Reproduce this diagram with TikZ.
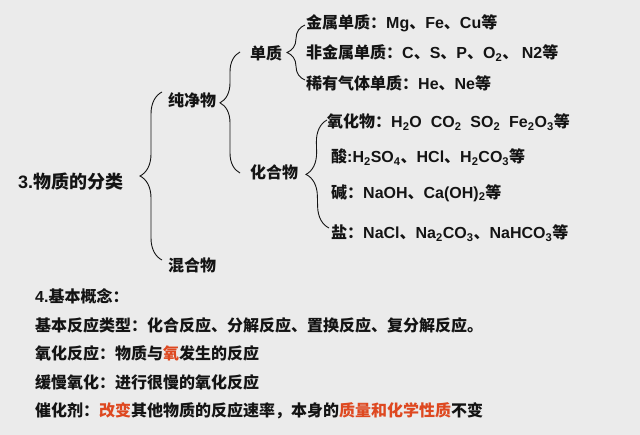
\documentclass[tikz,border=0pt]{standalone}
\usepackage{fontspec}
\setmainfont{Liberation Sans}
\newfontfamily\cjk{Noto Sans CJK SC}
\newfontfamily\latfont{Liberation Sans}
\newcommand\latn[1]{{\latfont\bfseries #1}}
\newcommand\sub[1]{\textsubscript{#1}}
\usetikzlibrary{decorations.pathreplacing,calc}
\definecolor{bg}{RGB}{235,235,235}
\definecolor{hl}{RGB}{222,72,32}
\definecolor{ink}{RGB}{20,20,20}
\tikzset{
  lbl/.style={anchor=west,inner sep=0pt,text=ink,font=\cjk\bfseries\fontsize{16}{18}\selectfont},
  big/.style={lbl,font=\cjk\bfseries\fontsize{18}{20}\selectfont},
  brc/.style={draw=ink,line width=0.9pt,decorate,decoration={brace,amplitude=#1}}
}
\begin{document}
\begin{tikzpicture}[x=1pt,y=-1pt]
\fill[bg] (0,0) rectangle (640,435);
\useasboundingbox (0,0) rectangle (640,435);
% classification
\node[big] (root) at (18,182) {\latn{3.}物质的分类};
\node[lbl] (chun) at (168,100) {纯净物};
\node[lbl] (hun) at (168,265) {混合物};
\node[lbl] (dan) at (250,53) {单质};
\node[lbl] (hua) at (250,172) {化合物};
\node[lbl] (j1) at (306,23) {金属单质：\latn{Mg}、\latn{Fe}、\latn{Cu}等};
\node[lbl] (j2) at (306,53) {非金属单质：\latn{C}、\latn{S}、\latn{P}、\latn{O\sub{2}}、 \latn{N2}等};
\node[lbl] (j3) at (306,83) {稀有气体单质：\latn{He}、\latn{Ne}等};
\node[lbl] (h1) at (327,122) {氧化物：\latn{H\sub{2}O\ \ CO\sub{2}\ \ SO\sub{2}\ \ Fe\sub{2}O\sub{3}}等};
\node[lbl] (h2) at (331,157) {酸\latn{:H\sub{2}SO\sub{4}}、\latn{HCl}、\latn{H\sub{2}CO\sub{3}}等};
\node[lbl] (h3) at (331,193) {碱：\latn{NaOH}、\latn{Ca(OH)\sub{2}}等};
\node[lbl] (h4) at (331,233) {盐：\latn{NaCl}、\latn{Na\sub{2}CO\sub{3}}、\latn{NaHCO\sub{3}}等};
% brace end points
\coordinate (a1) at ($(hun.west)+(-6,-5)$);
\coordinate (a2) at ($(chun.west)+(-6,-8)$);
\coordinate (b1) at ($(hua.west)+(-10,1)$);
\coordinate (b2) at ($(dan.west)+(-10,-1)$);
\coordinate (c1) at ($(j3.west)+(-1,-3)$);
\coordinate (c2) at ($(j1.west)+(-1,2)$);
\coordinate (d1) at ($(h4.west)+(-2,-5)$);
\coordinate (d2) at ($(h1.west)+(0,-2)$);
\draw[brc=22] (a1) -- (a2);
\draw[brc=20,decoration={aspect=0.58}] (b1) -- (b2);
\draw[brc=18] (c1) -- (c2);
\draw[brc=22] (d1) -- (d2);
% basic concepts
\node[lbl] (k0) at (35,296) {\latn{4.}基本概念：};
\node[lbl] (k1) at (35,325) {基本反应类型：化合反应、分解反应、置换反应、复分解反应。};
\node[lbl] (k2) at (35,353) {氧化反应：物质与\textcolor{hl}{氧}发生的反应};
\node[lbl] (k3) at (35,382) {缓慢氧化：进行很慢的氧化反应};
\node[lbl] (k4) at (35,411) {催化剂：\textcolor{hl}{改变}其他物质的反应速率，本身的\textcolor{hl}{质量和化学性质}不变};
\end{tikzpicture}
\end{document}
